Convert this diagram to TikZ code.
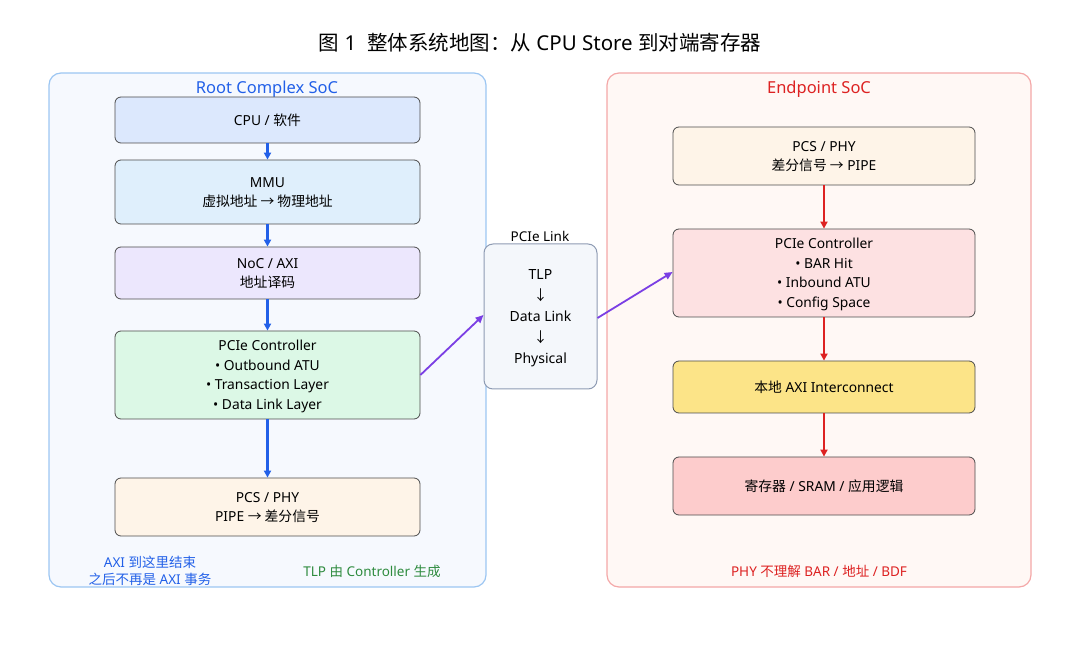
\documentclass[tikz,border=0pt]{standalone}
\usepackage{fontspec}
\setmainfont{Noto Sans}
\newfontfamily\cjk{Noto Sans CJK SC}
\newcommand{\zh}[1]{{\cjk #1}}
\usetikzlibrary{arrows.meta}
\definecolor{bblue}{HTML}{2260E8}
\definecolor{rred}{HTML}{DD2222}
\definecolor{ppur}{HTML}{7B3FE4}
\definecolor{ggreen}{HTML}{2E8B3E}
\definecolor{fcpu}{HTML}{DCE8FD}
\definecolor{fmmu}{HTML}{DFEFFC}
\definecolor{fnoc}{HTML}{ECE7FD}
\definecolor{fgrn}{HTML}{DCF8E6}
\definecolor{fphy}{HTML}{FEF4E8}
\definecolor{fpink}{HTML}{FDE1E2}
\definecolor{fyel}{HTML}{FCE488}
\definecolor{fred}{HTML}{FDCCCC}
\definecolor{lcb}{HTML}{9CC6F2}
\definecolor{lcf}{HTML}{F6F9FE}
\definecolor{rcb}{HTML}{F4A8A8}
\definecolor{rcf}{HTML}{FFF8F5}
\definecolor{kb}{HTML}{8E9BB3}
\definecolor{kf}{HTML}{F4F7FB}
\tikzset{
 box/.style={draw=black!70,rounded corners=6pt,line width=0.8pt,minimum width=305pt,align=center,font=\fontsize{13.8}{19.5}\selectfont,inner sep=0pt,text depth=-6pt},
 rbox/.style={box,minimum width=302pt},
 cont/.style={rounded corners=12pt,line width=1.2pt},
 barr/.style={-{Triangle[length=7pt,width=7pt]},bblue,line width=2.2pt},
 rarr/.style={-{Triangle[length=7pt,width=7pt]},rred,line width=2.2pt},
 parr/.style={-{Triangle[length=8pt,width=7pt]},ppur,line width=1.8pt},
 note/.style={font=\fontsize{13.5}{17.5}\selectfont,align=center}
}
\begin{document}
\begin{tikzpicture}[x=1pt,y=-1pt]
\useasboundingbox (0,0) rectangle (1080,660);
\node (title) at (540,43) {\fontsize{20.5}{24}\selectfont \zh{图} 1\ \ \zh{整体系统地图：从} CPU Store \zh{到对端寄存器}};
% left container
\draw[cont,draw=lcb,fill=lcf] (49,73) rectangle (486,587);
\node[bblue,font=\fontsize{16.5}{19}\selectfont] (lt) at (267,89) {Root Complex SoC};
\node[box,fill=fcpu,minimum height=46pt] (cpu) at (267.5,120) {CPU / \zh{软件}};
\node[box,fill=fmmu,minimum height=64pt] (mmu) at (267.5,192) {MMU\\\zh{虚拟地址 → 物理地址}};
\node[box,fill=fnoc,minimum height=52pt] (noc) at (267.5,273) {NoC / AXI\\\zh{地址译码}};
\node[box,fill=fgrn,minimum height=88pt] (lpc) at (267.5,375) {PCIe Controller\\• Outbound ATU\\• Transaction Layer\\• Data Link Layer};
\node[box,fill=fphy,minimum height=58pt] (lphy) at (267.5,507) {PCS / PHY\\PIPE \zh{→ 差分信号}};
\draw[barr] (cpu) -- (mmu);
\draw[barr] (mmu) -- (noc);
\draw[barr] (noc) -- (lpc);
\draw[barr] (lpc) -- (lphy);
\node[note,bblue] (n1) at (150,571) {AXI \zh{到这里结束}\\\zh{之后不再是} AXI \zh{事务}};
\node[note,ggreen] (n2) at (372,571) {TLP \zh{由} Controller \zh{生成}};
% link
\node[font=\fontsize{13.5}{15}\selectfont] (ll) at (540,236) {PCIe Link};
\node[draw=kb,fill=kf,rounded corners=9pt,line width=1pt,minimum width=113pt,minimum height=145pt,align=center,font=\fontsize{14}{21}\selectfont,text depth=-6pt] (link) at (540.5,316.5) {TLP\\\zh{↓}\\Data Link\\\zh{↓}\\Physical};
% right container
\draw[cont,draw=rcb,fill=rcf] (607,73) rectangle (1031,587);
\node[rred,font=\fontsize{16.5}{19}\selectfont] (rt) at (819,89) {Endpoint SoC};
\node[rbox,fill=fphy,minimum height=58pt] (rphy) at (824,156) {PCS / PHY\\\zh{差分信号 →} PIPE};
\node[rbox,fill=fpink,minimum height=88pt] (rpc) at (824,273) {PCIe Controller\\• BAR Hit\\• Inbound ATU\\• Config Space};
\node[rbox,fill=fyel,minimum height=52pt] (axi) at (824,387) {\zh{本地} AXI Interconnect};
\node[rbox,fill=fred,minimum height=58pt] (reg) at (824,486) {\zh{寄存器} / SRAM / \zh{应用逻辑}};
\draw[rarr] (rphy) -- (rpc);
\draw[rarr] (rpc) -- (axi);
\draw[rarr] (axi) -- (reg);
\node[note,rred] (n3) at (819,571) {PHY \zh{不理解} BAR / \zh{地址} / BDF};
% purple
\draw[parr] (lpc.east) -- (link.west |- 0,315);
\draw[parr] (link.east |- 0,318) -- (rpc.west |- 0,272);
\end{tikzpicture}
\end{document}
